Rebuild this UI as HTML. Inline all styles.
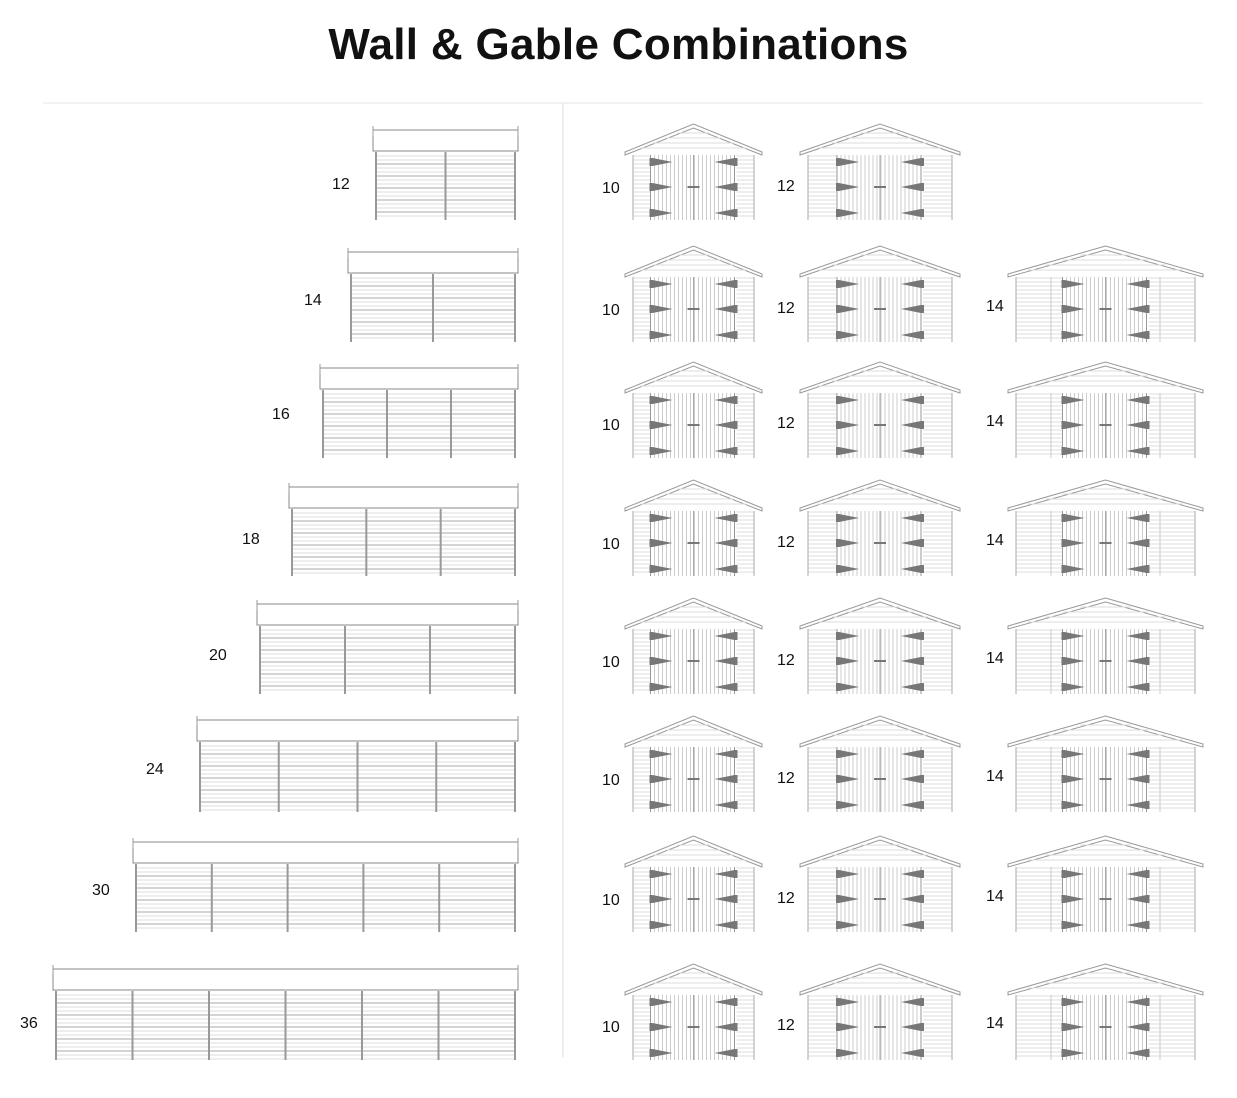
<!DOCTYPE html>
<html><head><meta charset="utf-8"><style>
body{margin:0;background:#fff;width:1237px;height:1098px;position:relative;overflow:hidden;font-family:"Liberation Sans",sans-serif}
h1{position:absolute;top:20px;left:0;width:1237px;text-align:center;margin:0;font-size:44px;font-weight:bold;color:#111;letter-spacing:0.3px}
.l{position:absolute;font-size:16px;color:#111}
svg{position:absolute;left:0;top:0}
</style></head><body>
<h1>Wall &amp; Gable Combinations</h1>
<svg id="s" width="1237" height="1098"></svg>
<div class="l" style="left:332px;top:176px">12</div>
<div class="l" style="left:304px;top:292px">14</div>
<div class="l" style="left:272px;top:406px">16</div>
<div class="l" style="left:242px;top:531px">18</div>
<div class="l" style="left:209px;top:647px">20</div>
<div class="l" style="left:146px;top:761px">24</div>
<div class="l" style="left:92px;top:882px">30</div>
<div class="l" style="left:20px;top:1015px">36</div>
<div class="l" style="left:602px;top:180px">10</div><div class="l" style="left:777px;top:178px">12</div>
<div class="l" style="left:602px;top:302px">10</div><div class="l" style="left:777px;top:300px">12</div><div class="l" style="left:986px;top:298px">14</div>
<div class="l" style="left:602px;top:417px">10</div><div class="l" style="left:777px;top:415px">12</div><div class="l" style="left:986px;top:413px">14</div>
<div class="l" style="left:602px;top:536px">10</div><div class="l" style="left:777px;top:534px">12</div><div class="l" style="left:986px;top:532px">14</div>
<div class="l" style="left:602px;top:654px">10</div><div class="l" style="left:777px;top:652px">12</div><div class="l" style="left:986px;top:650px">14</div>
<div class="l" style="left:602px;top:772px">10</div><div class="l" style="left:777px;top:770px">12</div><div class="l" style="left:986px;top:768px">14</div>
<div class="l" style="left:602px;top:892px">10</div><div class="l" style="left:777px;top:890px">12</div><div class="l" style="left:986px;top:888px">14</div>
<div class="l" style="left:602px;top:1019px">10</div><div class="l" style="left:777px;top:1017px">12</div><div class="l" style="left:986px;top:1015px">14</div>
<script>
var s=document.getElementById('s'),h='';
function L(a,b,c,d,col,w){h+='<line x1="'+a+'" y1="'+b+'" x2="'+c+'" y2="'+d+'" stroke="'+col+'" stroke-width="'+(w||1)+'"/>';}
function R(x,y,w,hh,f,st){h+='<rect x="'+x+'" y="'+y+'" width="'+w+'" height="'+hh+'" fill="'+f+'" stroke="'+(st||'none')+'"/>';}
L(43,103,1203,103,'#e6e6e6');L(563,103,563,1057,'#ddd');
var rows=[[128,220,373,2],[250,342,348,2],[366,458,320,3],[485,576,289,3],[602,694,257,3],[718,812,197,4],[840,932,133,5],[967,1060,53,6]];
rows.forEach(function(r){
 var t=r[0],b=r[1],x0=r[2],x1=518,n=r[3];
 R(x0,t+2,x1-x0,21,'#fff','#888');
 L(x0,t-2,x0,t+8,'#999');L(x1,t-2,x1,t+8,'#999');
 var wx=x0+3,wr=x1-3;
 for(var y=t+28;y<b;y+=4)L(wx,y,wr,y,(y-t)%12==0?'#aaa':'#ddd');
 L(wx,t+24,wx,b,'#999',2);L(wr,t+24,wr,b,'#999',2);
 for(var i=1;i<n;i++){var x=wx+(wr-wx)*i/n;L(x,t+24,x,b,'#999',2);}
});
var cols=[[625,762],[800,960],[1008,1203]];
rows.forEach(function(r,ri){
 var b=r[1];
 cols.forEach(function(c,ci){
  if(ri==0&&ci==2)return;
  var x0=c[0],x1=c[1],m=(x0+x1)/2,pk=b-96,ev=b-68;
  h+='<polygon points="'+x0+','+ev+' '+m+','+pk+' '+x1+','+ev+' '+x1+','+(ev+3)+' '+m+','+(pk+4)+' '+x0+','+(ev+3)+'" fill="#fff" stroke="#999"/>';
  for(var k=1;k<5;k++){var yy=pk+4+k*5;var dx=(x1-x0)/2*(yy-pk)/(ev-pk);L(m-dx+6,yy,m+dx-6,yy,'#ddd');}
  var wx=x0+8,wr=x1-8;
  for(var y=ev+4;y<b;y+=4)L(wx,y,wr,y,'#ddd');
  L(wx,ev+3,wx,b,'#aaa');L(wr,ev+3,wr,b,'#aaa');
  if(ci==2){L(x0+43,ev+3,x0+43,b,'#ccc');L(x1-43,ev+3,x1-43,b,'#ccc');}
  var d0=m-43,d1=m+43;
  R(d0,ev+3,86,b-ev-3,'#fff');
  for(var x=d0;x<=d1;x+=4)L(x,ev+3,x,b,x==d0||x>d1-4?'#999':'#ccc');
  L(m,ev+3,m,b,'#aaa');
  [ev+10,ev+35,ev+61].forEach(function(hy){
   h+='<polygon points="'+(d0-1)+','+(hy-4)+' '+(d0+2)+','+(hy-4)+' '+(d0+22)+','+hy+' '+(d0+2)+','+(hy+4)+' '+(d0-1)+','+(hy+4)+'" fill="#777"/>';
   h+='<polygon points="'+(d1+1)+','+(hy-4)+' '+(d1-2)+','+(hy-4)+' '+(d1-22)+','+hy+' '+(d1-2)+','+(hy+4)+' '+(d1+1)+','+(hy+4)+'" fill="#777"/>';
  });
  R(m-6,ev+34,12,2,'#777');
 });
});
s.innerHTML=h;
</script>
</body></html>
